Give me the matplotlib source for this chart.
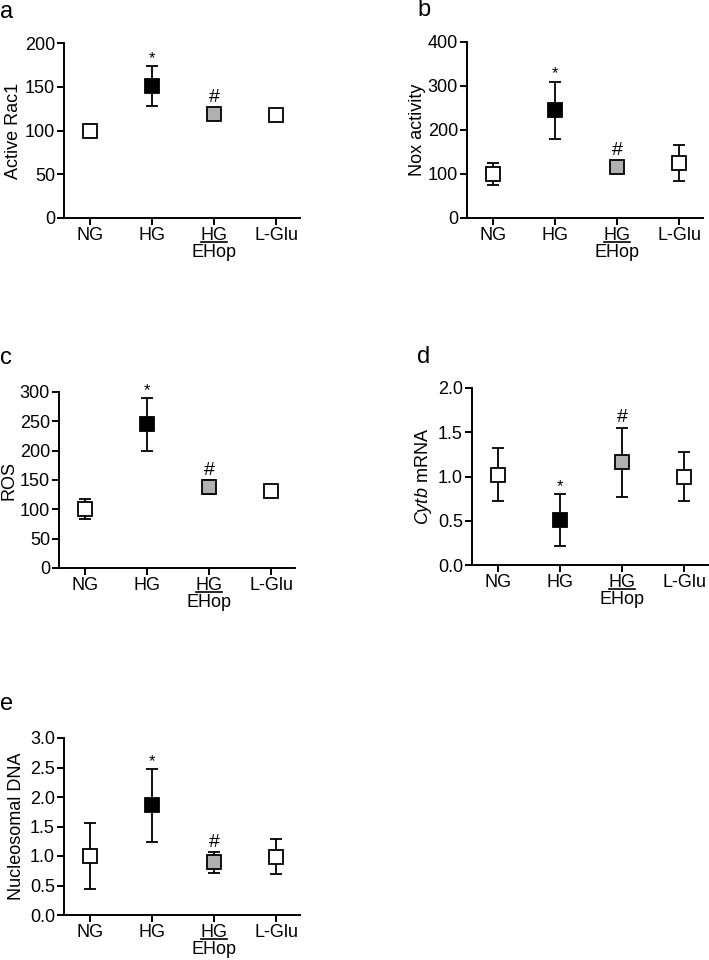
import matplotlib
matplotlib.use("Agg")
import matplotlib.pyplot as plt

plt.rcParams["font.family"] = ["Liberation Sans", "DejaVu Sans"]
plt.rcParams["mathtext.fontset"] = "custom"
plt.rcParams["mathtext.rm"] = "Liberation Sans"
plt.rcParams["mathtext.it"] = "Liberation Sans:italic"

groups = ["NG", "HG", "HG", "L-Glu"]
colors = ["white", "black", "#b0b0b0", "white"]

rac1_mean = [100, 151, 119, 118]
rac1_err = [0, 23, 0, 0]

nox_mean = [100, 245, 115, 125]
nox_err = [25, 65, 0, 41]

ros_mean = [100, 245, 138, 132]
ros_err = [17, 45, 12, 0]

cytb_mean = [1.02, 0.51, 1.16, 1.00]
cytb_err = [0.30, 0.29, 0.39, 0.28]

dna_mean = [1.0, 1.86, 0.89, 0.99]
dna_err = [0.56, 0.62, 0.17, 0.30]

W, H = 709, 960
FS = 13
fig = plt.figure(figsize=(W / 100, H / 100), dpi=100)


def mark(ax, i, y, txt, size, off):
    ax.annotate(txt, (i, y), xytext=(0, off), textcoords="offset points",
                ha="center", va="bottom", fontsize=size)


def panel(rect_px, means, errs, ylim, yticks, ylabel, label_x, letter, letter_px, fmt=None):
    l, t, r, b = rect_px
    ax = fig.add_axes([l / W, 1 - b / H, (r - l) / W, (b - t) / H])
    for i, (m, e) in enumerate(zip(means, errs)):
        if e > 0:
            ax.errorbar(i, m, yerr=e, fmt="none", ecolor="black", elinewidth=1.3,
                        capsize=4, capthick=1.3, zorder=2)
        ax.plot(i, m, marker="s", markersize=10, markerfacecolor=colors[i],
                markeredgecolor="black", markeredgewidth=1.3, linestyle="none", zorder=3)

    # significance marks: * over HG, # over HG + EHop
    mark(ax, 1, means[1] + errs[1], "*", 12, 0)
    top2 = means[2] + errs[2]
    mark(ax, 2, top2, "#", 14, 1 if errs[2] > 0 else 6)

    ax.set_xlim(-0.42, 3.38)
    ax.set_ylim(*ylim)
    ax.set_yticks(yticks)
    if fmt:
        ax.set_yticklabels([fmt.format(v) for v in yticks])
    ax.set_xticks(range(4))
    ax.set_xticklabels(groups)
    # third group label: underlined HG over EHop
    h = b - t
    xt = ax.get_xaxis_transform()
    ax.plot([1.79, 2.21], [-24 / h, -24 / h], color="black", lw=1.2, transform=xt, clip_on=False)
    ax.text(2, -26 / h, "EHop", transform=xt, ha="center", va="top", fontsize=FS)
    for s in ["top", "right"]:
        ax.spines[s].set_visible(False)
    for s in ["left", "bottom"]:
        ax.spines[s].set_linewidth(1.4)
    ax.tick_params(direction="out", length=5, width=1.4, labelsize=FS, pad=1.5)
    ax.set_ylabel(ylabel, fontsize=FS, va="center")
    ax.yaxis.set_label_coords((label_x - l) / (r - l), 0.5)
    fig.text(letter_px[0] / W, 1 - letter_px[1] / H, letter, fontsize=17, ha="center", va="center")
    return ax


panel((64, 43, 300, 218), rac1_mean, rac1_err, (0, 200), [0, 50, 100, 150, 200],
      "Active Rac1", 14, "a", (7, 12))
panel((467, 42, 703, 218), nox_mean, nox_err, (0, 400), [0, 100, 200, 300, 400],
      "Nox activity", 417, "b", (424, 10))
panel((59, 392, 295, 568), ros_mean, ros_err, (0, 300), [0, 50, 100, 150, 200, 250, 300],
      "ROS", 9, "c", (6, 358))
panel((472, 388, 708, 565), cytb_mean, cytb_err, (0, 2.0), [0, 0.5, 1.0, 1.5, 2.0],
      r"$\it{Cytb}$ mRNA", 424, "d", (424, 357), fmt="{:.1f}")
panel((64, 738, 300, 915), dna_mean, dna_err, (0, 3.0), [0, 0.5, 1.0, 1.5, 2.0, 2.5, 3.0],
      "Nucleosomal DNA", 17, "e", (7, 704), fmt="{:.1f}")

fig.savefig("out.png", dpi=100)
